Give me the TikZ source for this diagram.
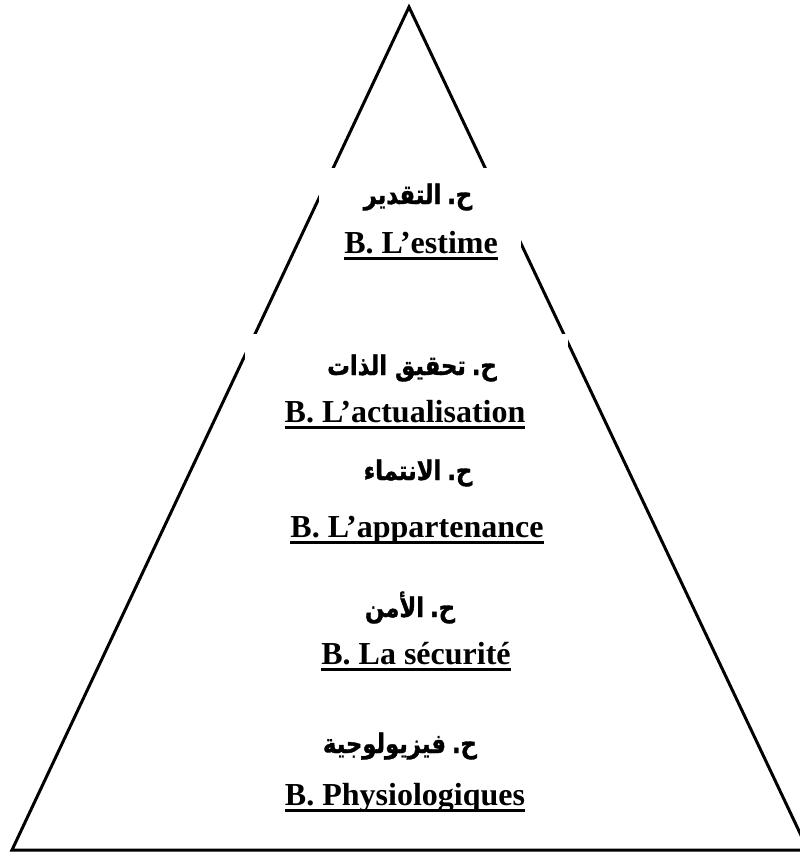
\documentclass[tikz,border=0pt]{standalone}
\usepackage{fontspec}
\setmainfont{Liberation Serif}
\newfontfamily\arabicfont[Script=Arabic, FakeStretch=0.84, BoldFeatures={FakeBold=1.2}]{DejaVu Sans}
\TeXXeTstate=1
\newcommand\ulfr[1]{\setbox0\hbox{#1}\rlap{\rule[-6.5pt]{\wd0}{2.6pt}}\box0}
\newcommand\arsp{\kern6pt}
\begin{document}
\begin{tikzpicture}[x=1pt,y=-1pt,
  fr/.style={font=\bfseries\fontsize{32}{36}\selectfont, anchor=base, inner sep=0pt},
  ar/.style={font=\arabicfont\bfseries\fontsize{27}{30}\selectfont, anchor=base, inner sep=0pt},
  gapbox/.style={fill=white, draw=none}]
\useasboundingbox (0,0) rectangle (800,852);
% pyramid
\draw[line width=3pt, line join=miter] (409,7) -- (12,850) -- (808,850) -- cycle;
% white text boxes covering the sides
\fill[gapbox] (319,168) rectangle (510,215);
\fill[gapbox] (335,215) rectangle (521,268);
\fill[gapbox] (245,334) rectangle (568,395);
% labels
\node[ar] (a1) at (418,204) {\beginR ح.\arsp التقدير\endR};
\node[fr] (f1) at (421,253) {\ulfr{B. L’estime}};
\node[ar] (a2) at (412,375) {\beginR ح.\arsp تحقيق الذات\endR};
\node[fr] (f2) at (405,422) {\ulfr{B. L’actualisation}};
\node[ar] (a3) at (418,480) {\beginR ح.\arsp الانتماء\endR};
\node[fr] (f3) at (417,537) {\ulfr{B. L’appartenance}};
\node[ar] (a4) at (410,617) {\beginR ح.\arsp الأمن\endR};
\node[fr] (f4) at (416,664) {\ulfr{B. La sécurité}};
\node[ar] (a5) at (400,753) {\beginR ح.\arsp فيزيولوجية\endR};
\node[fr] (f5) at (405,805) {\ulfr{B. Physiologiques}};
\end{tikzpicture}
\end{document}
